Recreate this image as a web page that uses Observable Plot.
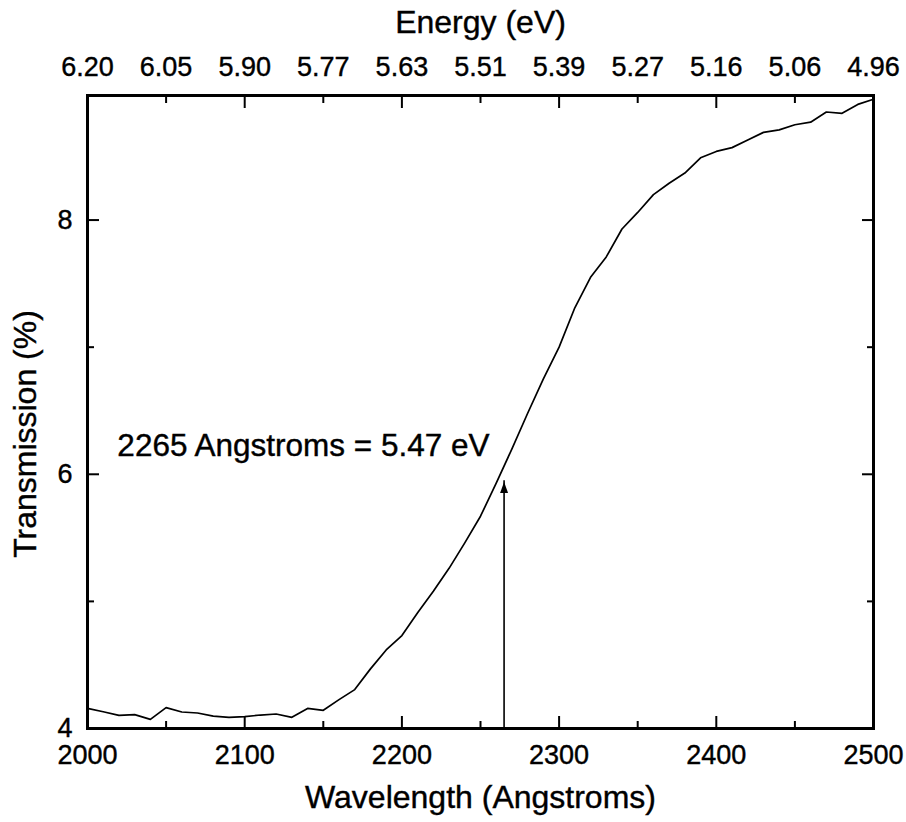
<!DOCTYPE html>
<html><head><meta charset="utf-8">
<script src="https://cdn.jsdelivr.net/npm/d3@7"></script>
<script src="https://cdn.jsdelivr.net/npm/@observablehq/plot@0.6"></script>
<style>body{margin:0;background:#fff;} svg{display:block} svg text{stroke:#000;stroke-width:0.4px;}</style>
</head><body><div id="chart"></div>
<script>
const wavelengths = [2000,2010,2020,2030,2040,2050,2060,2070,2080,2090,
  2100,2110,2120,2130,2140,2150,2160,2170,2180,2190,
  2200,2210,2220,2230,2240,2250,2260,2270,2280,2290,
  2300,2310,2320,2330,2340,2350,2360,2370,2380,2390,
  2400,2410,2420,2430,2440,2450,2460,2470,2480,2490,2500];
const transmission = [4.158,4.132,4.103,4.109,4.072,4.164,4.130,4.122,4.098,4.088,
  4.093,4.106,4.114,4.088,4.158,4.143,4.227,4.306,4.469,4.618,
  4.731,4.91,5.08,5.26,5.46,5.67,5.93,6.20,6.48,6.75,
  7.00,7.31,7.55,7.71,7.93,8.06,8.20,8.29,8.37,8.49,
  8.54,8.57,8.63,8.69,8.71,8.75,8.77,8.85,8.84,8.91,8.95];

const bottomMajorTicks = [2000,2100,2200,2300,2400,2500];
const bottomMinorTicks = [2050,2150,2250,2350,2450];
const energyTickWavelengths = [2000,2050,2100,2150,2200,2250,2300,2350,2400,2450,2500];
const energyTickLabels = ["6.20","6.05","5.90","5.77","5.63","5.51","5.39","5.27","5.16","5.06","4.96"];
const yMajorTicks = [4,6,8];
const yMinorTicks = [5,7];

const markerWavelength = [2265];
const markerTip = 5.94;
const annotationText = ["2265 Angstroms = 5.47 eV"];
const annotationX = 2019;
const annotationY = 6.22;

const xTitle = ["Wavelength (Angstroms)"];
const topTitle = ["Energy (eV)"];
const yTitle = ["Transmission (%)"];

const data = wavelengths.map((w, i) => ({w, t: transmission[i]}));
const font = "'Liberation Sans', Arial, Helvetica, sans-serif";
const arrowHead = {draw(ctx) { ctx.moveTo(0, 0); ctx.lineTo(-4, 11); ctx.lineTo(4, 11); ctx.closePath(); }};
const blank = () => "";

const chart = Plot.plot({
  width: 906,
  height: 822,
  marginLeft: 87,
  marginRight: 33,
  marginTop: 95,
  marginBottom: 94,
  style: {fontFamily: font, fontSize: "27px", color: "black", background: "white"},
  x: {domain: [2000, 2500], axis: null},
  y: {domain: [4, 8.98], axis: null},
  marks: [
    // inward ticks
    Plot.axisX(bottomMajorTicks, {anchor: "bottom", tickSize: -12, strokeWidth: 2, tickFormat: blank, label: null}),
    Plot.axisX(bottomMinorTicks, {anchor: "bottom", tickSize: -7, strokeWidth: 2, tickFormat: blank, label: null}),
    Plot.axisX(bottomMajorTicks, {anchor: "top", tickSize: -12, strokeWidth: 2, tickFormat: blank, label: null}),
    Plot.axisX(bottomMinorTicks, {anchor: "top", tickSize: -7, strokeWidth: 2, tickFormat: blank, label: null}),
    Plot.axisY(yMajorTicks, {anchor: "left", tickSize: -12, strokeWidth: 2, tickFormat: blank, label: null}),
    Plot.axisY(yMinorTicks, {anchor: "left", tickSize: -7, strokeWidth: 2, tickFormat: blank, label: null}),
    Plot.axisY(yMajorTicks, {anchor: "right", tickSize: -12, strokeWidth: 2, tickFormat: blank, label: null}),
    Plot.axisY(yMinorTicks, {anchor: "right", tickSize: -7, strokeWidth: 2, tickFormat: blank, label: null}),
    // tick labels
    Plot.axisX(bottomMajorTicks, {anchor: "bottom", tickSize: 0, tickPadding: 16, label: null, tickFormat: d => String(d)}),
    Plot.axisX(energyTickWavelengths, {anchor: "top", tickSize: 0, tickPadding: 20, label: null,
      tickFormat: d => energyTickLabels[energyTickWavelengths.indexOf(d)]}),
    Plot.axisY(yMajorTicks, {anchor: "left", tickSize: 0, tickPadding: 15, label: null, tickFormat: d => String(d)}),
    // titles
    Plot.text(xTitle, {text: d => d, frameAnchor: "bottom", textAnchor: "middle", lineAnchor: "middle", dy: 69, fontSize: 32}),
    Plot.text(topTitle, {text: d => d, frameAnchor: "top", textAnchor: "middle", lineAnchor: "middle", dy: -73, fontSize: 32}),
    Plot.text(yTitle, {text: d => d, frameAnchor: "left", textAnchor: "middle", lineAnchor: "middle", rotate: -90, dx: -62, dy: 22, fontSize: 32}),
    // data
    Plot.line(data, {x: "w", y: "t", stroke: "black", strokeWidth: 1.7}),
    // arrow
    Plot.ruleX(markerWavelength, {x: d => d, y1: 4, y2: markerTip + 0.01, stroke: "black", strokeWidth: 1.6}),
    Plot.dot(markerWavelength, {x: d => d, y: () => markerTip, symbol: arrowHead, fill: "black", stroke: "none"}),
    Plot.text(annotationText, {text: d => d, x: () => annotationX, y: () => annotationY, textAnchor: "start", lineAnchor: "middle", fontSize: 31.5}),
    Plot.frame({stroke: "black", strokeWidth: 3})
  ]
});
document.getElementById("chart").appendChild(chart);
</script>
</body></html>
